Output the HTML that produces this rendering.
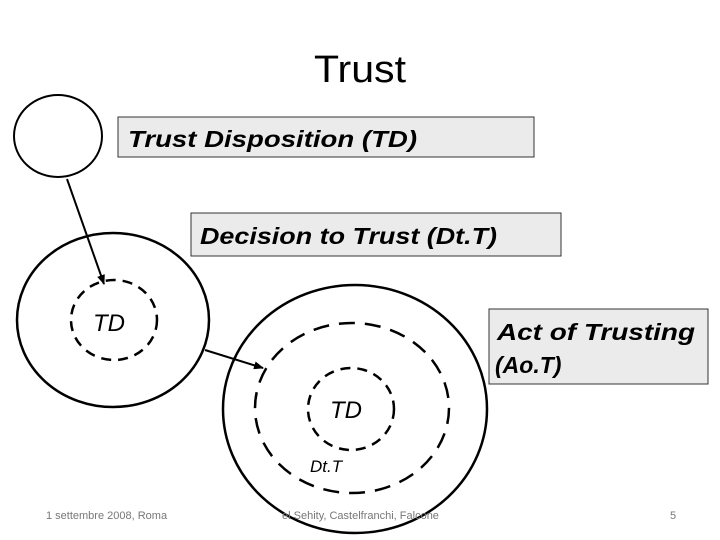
<!DOCTYPE html>
<html><head><meta charset="utf-8"><style>
html,body{margin:0;padding:0;background:#fff;}
svg{display:block;}
</style></head><body>
<svg width="720" height="540" viewBox="0 0 720 540" xmlns="http://www.w3.org/2000/svg">
<defs>
<marker id="ah" markerWidth="10" markerHeight="8" refX="9" refY="4" orient="auto" markerUnits="userSpaceOnUse">
<path d="M0,0 L10,4 L0,8 Z" fill="#000"/>
</marker>
</defs>
<text x="360" y="82" font-family="Liberation Sans, sans-serif" font-size="38" text-anchor="middle" textLength="92" lengthAdjust="spacingAndGlyphs">Trust</text>

<ellipse cx="58" cy="136" rx="44" ry="41" fill="none" stroke="#000" stroke-width="2"/>

<rect x="118" y="117" width="416" height="40" fill="#ebebeb" stroke="#333" stroke-width="1"/>
<text x="128" y="147" font-family="Liberation Sans, sans-serif" font-size="23" font-weight="bold" font-style="italic" textLength="289" lengthAdjust="spacingAndGlyphs">Trust Disposition (TD)</text>

<rect x="191" y="213" width="370" height="43" fill="#ebebeb" stroke="#333" stroke-width="1"/>
<text x="200" y="244" font-family="Liberation Sans, sans-serif" font-size="23" font-weight="bold" font-style="italic" textLength="297" lengthAdjust="spacingAndGlyphs">Decision to Trust (Dt.T)</text>

<rect x="489" y="309" width="219" height="75" fill="#ebebeb" stroke="#333" stroke-width="1"/>
<text x="497" y="340" font-family="Liberation Sans, sans-serif" font-size="23" font-weight="bold" font-style="italic" textLength="198" lengthAdjust="spacingAndGlyphs">Act of Trusting</text>
<text x="495" y="373" font-family="Liberation Sans, sans-serif" font-size="23" font-weight="bold" font-style="italic">(Ao.T)</text>

<ellipse cx="113" cy="320" rx="96" ry="87" fill="none" stroke="#000" stroke-width="2.5"/>
<ellipse cx="114" cy="320" rx="43" ry="40" fill="none" stroke="#000" stroke-width="2.5" stroke-dasharray="10,7"/>
<text x="93" y="331" font-family="Liberation Sans, sans-serif" font-size="24" font-style="italic">TD</text>

<ellipse cx="355" cy="409" rx="132" ry="124" fill="none" stroke="#000" stroke-width="2.5"/>
<ellipse cx="352" cy="408" rx="97" ry="85" fill="none" stroke="#000" stroke-width="2.5" stroke-dasharray="16,10"/>
<ellipse cx="351" cy="409" rx="43" ry="41" fill="none" stroke="#000" stroke-width="2.5" stroke-dasharray="10,7"/>
<text x="330" y="418" font-family="Liberation Sans, sans-serif" font-size="24" font-style="italic">TD</text>
<text x="310" y="472" font-family="Liberation Sans, sans-serif" font-size="17" font-style="italic">Dt.T</text>

<line x1="67" y1="179" x2="104" y2="284" stroke="#000" stroke-width="2" marker-end="url(#ah)"/>
<line x1="205" y1="350" x2="263" y2="368" stroke="#000" stroke-width="2" marker-end="url(#ah)"/>

<text x="46" y="519" font-family="Liberation Sans, sans-serif" font-size="11" fill="#777">1 settembre 2008, Roma</text>
<text x="282" y="519" font-family="Liberation Sans, sans-serif" font-size="11" fill="#777">el Sehity, Castelfranchi, Falcone</text>
<text x="670" y="519" font-family="Liberation Sans, sans-serif" font-size="11" fill="#777">5</text>
</svg>
</body></html>
